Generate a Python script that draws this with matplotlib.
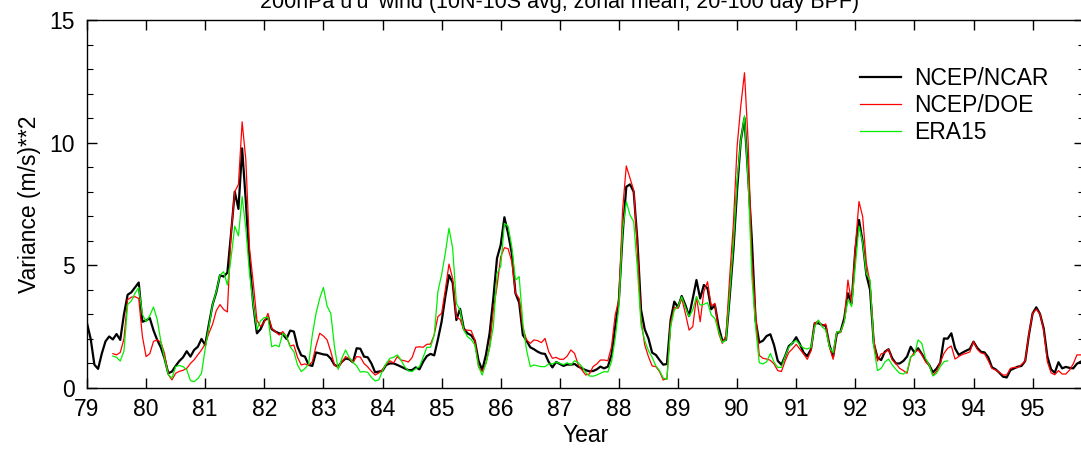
import numpy as np
import matplotlib
matplotlib.use("Agg")
import matplotlib.pyplot as plt
from matplotlib.ticker import MultipleLocator

plt.rcParams['font.family'] = ['Liberation Sans', 'DejaVu Sans']

# Abtastung: 1/16 Jahr
SCHRITT = 1.0 / 16
START_NCAR = 79.0
START_REST = 79.0 + 7 * SCHRITT

ncar = [
    2.64, 2.0, 0.95, 0.78, 1.4, 1.9, 2.1, 1.98, 2.2, 1.96,
    3.0, 3.8, 3.9, 4.1, 4.3, 2.7, 2.75, 2.85, 2.35, 1.96,
    1.65, 1.2, 0.6, 0.67, 0.9, 1.1, 1.25, 1.5, 1.28, 1.55,
    1.68, 2.0, 1.75, 2.6, 3.4, 3.9, 4.6, 4.54, 4.7, 6.3,
    8.0, 7.3, 9.77, 7.6, 5.2, 3.4,
    2.23, 2.4, 2.74, 2.88, 2.4, 2.3, 2.23, 2.2, 2.0, 2.34,
    2.3, 1.68, 1.33, 1.28, 0.94, 0.9, 1.45, 1.41, 1.37, 1.35,
    1.2, 0.94, 0.87, 1.07, 1.2, 1.17, 1.05, 1.62, 1.6, 1.28,
    1.25, 1.0, 0.64, 0.67, 0.7, 0.94, 1.0, 1.0, 0.94, 0.87,
    0.8, 0.73, 0.73, 0.84, 0.76,
    1.07, 1.3, 1.39, 1.33, 1.98, 2.7, 3.72, 4.6, 4.29, 2.77,
    3.23, 2.43, 2.23, 2.15, 1.93, 1.11, 0.73, 1.35, 2.23, 3.65,
    5.29, 5.83, 6.96, 6.3, 5.49, 3.86, 3.48, 2.16, 1.93, 1.66,
    1.58, 1.48, 1.41, 1.39, 1.06, 0.84, 1.06, 0.98, 0.9, 0.96,
    0.95, 0.98, 0.87, 0.8,
    0.73, 0.68, 0.69, 0.76, 0.87, 0.8, 0.87, 1.35, 2.5, 3.59,
    6.24, 8.2, 8.3, 8.0, 6.03, 3.18, 2.39, 2.02, 1.44, 1.35,
    1.14, 0.95, 0.98, 2.77, 3.52, 3.29, 3.75, 3.38, 2.93, 3.65,
    4.4, 3.65, 4.2, 4.06, 3.21, 3.38, 2.5, 1.93, 1.96, 3.72,
    5.63, 8.07, 10.1, 11.0, 8.6,
    6.03, 2.77, 1.85, 1.93, 2.12, 2.19, 1.75, 1.11, 0.95, 1.3,
    1.71, 1.83, 2.07, 1.79, 1.44, 1.3, 1.58, 2.64, 2.64, 2.57,
    2.53, 1.75, 1.28, 2.23, 2.3, 2.84, 3.86, 3.45, 5.63, 6.85,
    5.96, 4.61, 4.0, 1.82, 1.24, 1.14, 1.48, 1.58, 1.21, 1.0,
    1.0, 1.1, 1.28, 1.68,
    1.45, 1.62, 1.39, 1.14, 0.94, 0.64, 0.79, 1.03, 2.02, 2.01,
    2.23, 1.62, 1.35, 1.44, 1.52, 1.59, 1.89, 1.64, 1.48, 1.45,
    1.25, 0.84, 0.76, 0.62, 0.46, 0.43, 0.73, 0.8, 0.87, 0.9,
    1.1, 2.16, 3.04, 3.29, 3.02, 2.43, 1.28, 0.76, 0.62, 1.05,
    0.8, 0.86, 0.82, 0.8, 0.99, 1.07,
]

doe = [
    1.4, 1.35, 1.45,
    2.0, 3.6, 3.7, 3.72, 3.65, 2.1, 1.28, 1.4, 1.9, 1.96,
    1.87, 1.4, 0.55, 0.33, 0.6, 0.68, 0.72, 0.8, 1.0, 1.15,
    1.35, 1.55, 1.8, 2.23, 2.6, 3.15, 3.4, 3.2, 3.1, 6.3,
    8.0, 8.3, 10.85, 9.3, 5.7, 4.3,
    2.77, 2.5, 2.7, 3.04, 2.43, 2.3, 2.16, 2.3, 2.09, 1.71,
    1.75, 1.25, 0.94, 0.98, 0.92, 1.07, 1.71, 2.23, 2.12, 1.96,
    1.48, 0.94, 0.83, 1.05, 1.28, 1.2, 1.05, 1.28, 1.26, 1.0,
    0.86, 0.68, 0.53, 0.61, 0.76, 0.96, 1.11, 1.02, 1.28, 1.14,
    1.11, 1.06, 1.24, 1.66, 1.68,
    1.66, 1.78, 1.79, 2.16, 2.91, 3.04, 4.0, 5.05, 4.46, 2.88,
    2.8, 2.36, 2.36, 2.34, 1.96, 0.87, 0.67, 1.0, 1.68, 3.18,
    4.13, 5.35, 5.72, 5.68, 5.15, 3.86, 3.65, 2.45, 1.96, 1.82,
    1.96, 1.93, 1.85, 2.02, 1.48, 1.21, 1.25, 1.17, 1.17, 1.3,
    1.55, 1.41, 0.94, 0.73,
    0.53, 0.57, 0.87, 0.98, 1.14, 1.14, 1.11, 1.68, 2.98, 3.59,
    7.26, 9.05, 8.55, 8.07, 5.76, 2.77, 1.75, 1.28, 0.9, 0.87,
    0.67, 0.33, 0.38, 2.64, 3.29, 3.25, 3.65, 3.04, 2.36, 2.5,
    3.72, 2.7, 3.93, 4.33, 3.34, 3.45, 2.23, 1.82, 2.16, 4.54,
    6.71, 9.84, 11.5, 12.85, 10.0,
    5.22, 3.04, 1.33, 1.21, 1.18, 1.13, 0.98, 0.71, 0.67, 1.1,
    1.45, 1.6, 1.78, 1.58, 1.39, 1.17, 1.52, 2.64, 2.74, 2.54,
    2.61, 1.68, 1.17, 2.3, 2.26, 2.7, 4.4, 3.45, 5.76, 7.6,
    6.98, 5.08, 4.27, 1.96, 1.1, 1.39, 1.44, 1.58, 1.14, 1.0,
    0.8, 0.71, 0.6, 1.24,
    1.45, 1.55, 1.36, 1.07, 0.92, 0.52, 0.68, 1.03, 1.41, 1.62,
    1.71, 1.18, 1.28, 1.37, 1.41, 1.47, 1.89, 1.58, 1.43, 1.39,
    1.11, 0.8, 0.73, 0.64, 0.53, 0.53, 0.8, 0.84, 0.83, 0.96,
    1.1, 2.2, 3.04, 3.21, 3.02, 2.36, 1.07, 0.62, 0.54, 0.71,
    0.57, 0.57, 0.73, 0.98, 1.35, 1.35,
]

era15 = [
    1.3, 1.25, 1.1,
    1.5, 3.4, 3.55, 3.86, 4.1, 3.0, 2.7, 2.95, 3.3, 2.8,
    1.9, 1.2, 0.55, 0.4, 0.87, 0.92, 0.87, 0.75, 0.3, 0.26,
    0.38, 0.6, 1.6, 2.5, 3.4, 3.93, 4.6, 4.74, 4.2, 5.3,
    6.6, 6.2, 7.8, 6.5, 4.67, 3.4,
    2.39, 2.74, 2.87, 2.88, 1.68, 1.75, 1.68, 2.23, 2.09, 1.68,
    1.48, 0.94, 0.67, 0.79, 0.98, 2.16, 3.04, 3.65, 4.1, 3.34,
    3.04, 1.68, 0.76, 1.21, 1.55, 1.24, 1.05, 0.9, 0.65, 0.67,
    0.64, 0.43, 0.29, 0.33, 0.7, 1.0, 1.21, 1.25, 1.35, 1.14,
    0.87, 0.7, 0.67, 0.79, 0.87,
    1.25, 1.66, 1.66, 2.16, 3.93, 4.62, 5.49, 6.51, 5.69, 3.45,
    3.18, 2.36, 2.09, 1.98, 1.75, 0.87, 0.53, 1.0, 1.62, 2.5,
    4.67, 4.95, 6.71, 6.6, 5.76, 4.4, 4.54, 2.64, 1.55, 0.87,
    0.94, 0.9, 0.87, 0.87, 0.98, 0.98, 1.06, 1.0, 0.95, 1.03,
    0.94, 1.11, 1.03, 0.87,
    0.63, 0.49, 0.48, 0.53, 0.6, 0.67, 0.65, 1.07, 2.02, 3.32,
    6.44, 7.6, 7.05, 6.78, 4.88, 2.57, 1.93, 1.52, 1.25, 0.9,
    0.71, 0.41, 0.35, 2.5, 3.18, 3.32, 3.72, 3.29, 2.91, 3.18,
    3.72, 3.38, 3.41, 3.48, 2.98, 2.83, 2.3, 1.85, 1.96, 3.86,
    5.9, 8.41, 10.1, 11.1, 8.4,
    4.54, 2.5, 1.03, 0.98, 1.07, 1.41, 1.05, 0.84, 0.84, 1.3,
    1.66, 1.85, 1.94, 1.75, 1.63, 1.59, 1.66, 2.5, 2.77, 2.5,
    2.36, 1.66, 1.44, 2.3, 2.28, 2.69, 3.61, 3.32, 4.95, 6.6,
    5.92, 4.65, 4.4, 1.68, 0.71, 0.8, 1.06, 1.18, 0.94, 0.76,
    0.6, 0.57, 0.67, 1.28,
    1.35, 1.96, 1.82, 1.21, 0.94, 0.49, 0.6, 0.87, 1.07, 1.11,
]

jahre = list(range(79, 96))

t_ncar = START_NCAR + SCHRITT * np.arange(len(ncar))
t_doe = START_REST + SCHRITT * np.arange(len(doe))
t_era = START_REST + SCHRITT * np.arange(len(era15))

FS = 16.5

fig = plt.figure(figsize=(10.81, 4.49), dpi=100)
# rechte Achse liegt knapp ausserhalb des Bildes, wie im Original
ax = fig.add_axes([87 / 1081, 1 - 388 / 449, 997 / 1081, 368 / 449])

ax.plot(t_ncar, ncar, color="black", linewidth=1.6, label="NCEP/NCAR")
ax.plot(t_doe, doe, color="#ff0000", linewidth=0.9, label="NCEP/DOE")
ax.plot(t_era, era15, color="#00ee00", linewidth=0.9, label="ERA15")

ax.set_xlim(79, 79 + 997 / 59.1)
ax.set_ylim(0, 15)
ax.set_xticks(jahre)
ax.set_xticklabels([str(j) for j in jahre])
ax.yaxis.set_major_locator(MultipleLocator(5))
ax.yaxis.set_minor_locator(MultipleLocator(1))
ax.tick_params(axis="both", which="major", direction="in", length=7, width=1,
               labelsize=FS, top=True, right=True)
ax.tick_params(axis="x", which="major", pad=7)
ax.tick_params(axis="y", which="major", pad=9)
ax.tick_params(axis="y", which="minor", direction="in", length=4, width=0.8, right=True)
for s in ax.spines.values():
    s.set_linewidth(1.0)

ax.set_xlabel("Year", fontsize=FS, labelpad=2)
ax.set_ylabel("Variance (m/s)**2", fontsize=FS, labelpad=6)

ax.legend(loc="upper left", bbox_to_anchor=(0.775, 0.872), frameon=False,
          fontsize=FS, handlelength=1.8, handletextpad=0.57, labelspacing=0.18,
          borderaxespad=0, borderpad=0)

# Titel oben abgeschnitten wie im Original
fig.text(560 / 1081, 1 - 8 / 449, "200hPa u'u' wind (10N-10S avg, zonal mean, 20-100 day BPF)",
         ha="center", va="baseline", fontsize=15.5)

fig.savefig("out.png", dpi=100)
